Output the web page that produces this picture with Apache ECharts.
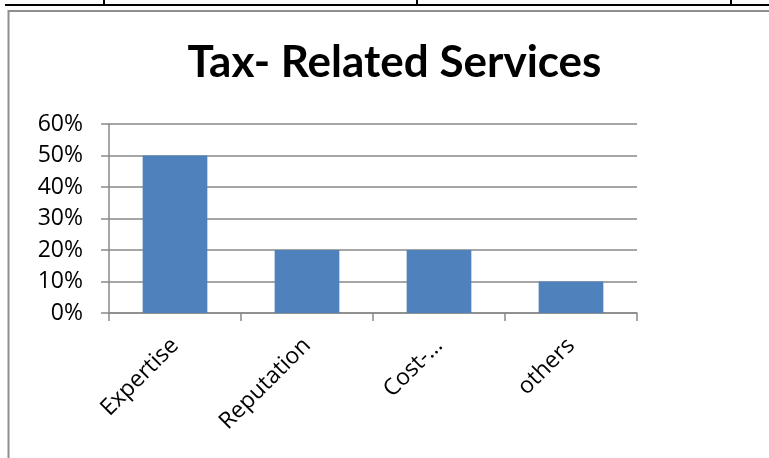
<!DOCTYPE html>
<html>
<head>
<meta charset="utf-8">
<script src="https://cdn.jsdelivr.net/npm/echarts@6/dist/echarts.min.js"></script>
<style>
html,body{margin:0;padding:0;background:#fff;}
#main{width:769px;height:458px;}
</style>
</head>
<body>
<div id="main"></div>
<script>
const titleText = "Tax- Related Services";
const categories = ["Expertise", "Reputation", "Cost-…", "others"];
const values = [0.50, 0.20, 0.20, 0.10];
const yTicks = [0, 0.1, 0.2, 0.3, 0.4, 0.5, 0.6];

const chart = echarts.init(document.getElementById('main'), null, {renderer: 'canvas'});
const axisGray = '#898989';
chart.setOption({
  animation: false,
  backgroundColor: '#ffffff',
  graphic: [
    {type: 'line', shape: {x1: 5, y1: 5, x2: 769, y2: 5}, style: {stroke: '#000', lineWidth: 2}, z: 10},
    {type: 'line', shape: {x1: 104, y1: 0, x2: 104, y2: 5}, style: {stroke: '#000', lineWidth: 2}, z: 10},
    {type: 'line', shape: {x1: 417, y1: 0, x2: 417, y2: 5}, style: {stroke: '#000', lineWidth: 2}, z: 10},
    {type: 'line', shape: {x1: 731, y1: 0, x2: 731, y2: 5}, style: {stroke: '#000', lineWidth: 2}, z: 10},
    {type: 'rect', shape: {x: 8.5, y: 11, width: 900, height: 600}, style: {fill: 'none', stroke: '#8e8e8e', lineWidth: 2}, z: 10},
    {type: 'text', x: 394.5, y: 63, style: {text: titleText, font: 'bold 44px Lato', fill: '#000', textAlign: 'center', textVerticalAlign: 'middle'}, z: 10}
  ],
  grid: {left: 109, top: 124, right: 132, bottom: 145, containLabel: false},
  xAxis: {
    type: 'category',
    data: categories,
    boundaryGap: true,
    axisLine: {show: true, lineStyle: {color: axisGray, width: 1.5}},
    axisTick: {show: true, length: 8, alignWithLabel: false, lineStyle: {color: axisGray, width: 1.5}},
    axisLabel: {rotate: 45, margin: 29, fontFamily: 'Open Sans', fontSize: 23, color: '#000', interval: 0}
  },
  yAxis: {
    type: 'value',
    min: 0, max: 0.6, interval: 0.1,
    axisLine: {show: true, lineStyle: {color: axisGray, width: 1.5}},
    axisTick: {show: true, length: 8, lineStyle: {color: axisGray, width: 1.5}},
    splitLine: {show: true, lineStyle: {color: axisGray, width: 1.5}},
    axisLabel: {
      margin: 26, fontFamily: 'Open Sans', fontSize: 23, color: '#000',
      formatter: function (v) { return Math.round(v * 100) + '%'; },
      customValues: yTicks
    }
  },
  series: [{
    type: 'bar',
    data: values,
    barWidth: '49%',
    itemStyle: {color: '#4F81BD'}
  }]
});
</script>
</body>
</html>
